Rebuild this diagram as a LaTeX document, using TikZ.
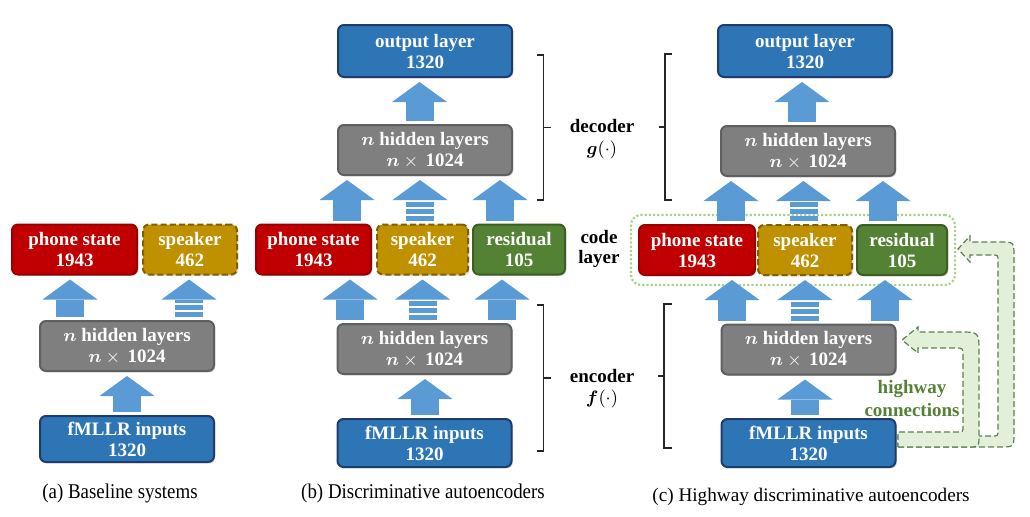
\documentclass[tikz,border=0pt]{standalone}
\usepackage{amsmath,bm}
\usepackage{fontspec}
\setmainfont{Liberation Serif}
\newfontfamily\capfont[FakeStretch=0.9]{Liberation Serif}
\usepackage{tikz}
\usetikzlibrary{arrows.meta,fit,shadows}

\definecolor{phred}{HTML}{C00000}
\definecolor{phredd}{HTML}{960000}
\definecolor{spkgold}{HTML}{BF9000}
\definecolor{spkbrown}{HTML}{7F6000}
\definecolor{resgreen}{HTML}{548235}
\definecolor{resgreend}{HTML}{3B5E25}
\definecolor{hidgray}{HTML}{7F7F7F}
\definecolor{hidgrayd}{HTML}{5F5F5F}
\definecolor{outblue}{HTML}{2E75B6}
\definecolor{outblued}{HTML}{1F3C6E}
\definecolor{arrblue}{HTML}{5B9BD5}
\definecolor{codedot}{HTML}{A9D18E}
\definecolor{hwfill}{HTML}{E2F0D9}
\definecolor{hwline}{HTML}{5E7F4F}
\definecolor{hwtext}{HTML}{548235}

\begin{document}
\begin{tikzpicture}[x=0.5pt,y=-0.5pt,
    box/.style={rounded corners=3pt,align=center,text=white,line width=1pt,inner sep=0pt,
      minimum height=25pt,font=\fontsize{9.5}{10.5}\selectfont\bfseries,
      drop shadow={shadow xshift=0.7pt,shadow yshift=-0.7pt,opacity=0.3}},
    phone/.style={box,fill=phred,draw=phredd},
    spk/.style={box,fill=spkgold,draw=spkbrown,dash pattern=on 3pt off 1.6pt},
    res/.style={box,fill=resgreen,draw=resgreend},
    hid/.style={box,fill=hidgray,draw=hidgrayd,minimum width=87pt},
    inp/.style={box,fill=outblue,draw=outblued,minimum width=87pt},
    blk/.style={draw=arrblue,line width=14pt,shorten <=1.5pt,shorten >=2pt,
      -{Triangle[length=10pt,width=27.5pt,line width=0pt]}},
    bars/.style={blk,dash pattern=on 2.4pt off 1.1pt on 2.4pt off 1.1pt on 2.4pt off 20pt},
    codebox/.style={draw=codedot,line width=1.1pt,dash pattern=on 1.1pt off 1pt,
      rounded corners=5pt,inner xsep=3.5pt,inner ysep=4.5pt},
    brk/.style={line width=0.8pt,black!85},
    lbl/.style={font=\fontsize{9.5}{10.5}\selectfont\bfseries},
    captxt/.style={font=\capfont\fontsize{10.5}{12}\selectfont},
    hw/.style={fill=hwfill,draw=hwline,line width=0.6pt,dash pattern=on 3pt off 1.5pt}]
  \useasboundingbox (0,0) rectangle (1030,516);

  % (a) baseline
  \node[phone,minimum width=62.5pt] (pha) at (74.5,249.5) {phone state\\1943};
  \node[spk,minimum width=47pt] (spka) at (190,249.5) {speaker\\462};
  \node[hid] (hida) at (127,346) {$\bm{n}$ hidden layers\\$\bm{n}\times{}$\,1024};
  \node[inp,minimum height=23pt] (ina) at (127,439) {fMLLR inputs\\1320};

  % (b) discriminative autoencoder
  \node[inp,minimum height=26pt] (outb) at (425,51) {output layer\\1320};
  \node[hid] (hidtb) at (425,150) {$\bm{n}$ hidden layers\\$\bm{n}\times{}$\,1024};
  \node[phone,minimum width=57.5pt] (phb) at (313.5,249.5) {phone state\\1943};
  \node[spk,minimum width=45.5pt] (spkb) at (422.5,249.5) {speaker\\462};
  \node[res,minimum width=46pt] (resb) at (519,249.5) {residual\\105};
  \node[hid] (hidbb) at (424.5,349) {$\bm{n}$ hidden layers\\$\bm{n}\times{}$\,1024};
  \node[inp,minimum height=24pt] (inb) at (424.5,443) {fMLLR inputs\\1320};

  % (c) highway
  \node[inp,minimum height=26pt] (outc) at (805,51) {output layer\\1320};
  \node[hid] (hidtc) at (808,151) {$\bm{n}$ hidden layers\\$\bm{n}\times{}$\,1024};
  \node[phone,minimum width=58pt] (phc) at (697,250) {phone state\\1943};
  \node[spk,minimum width=47pt] (spkc) at (805,250) {speaker\\462};
  \node[res,minimum width=45pt] (resc) at (902,250) {residual\\105};
  \node[hid] (hidbc) at (808.5,349.5) {$\bm{n}$ hidden layers\\$\bm{n}\times{}$\,1024};
  \node[inp,minimum height=24pt] (inc) at (808.5,443) {fMLLR inputs\\1320};
  \node[codebox,fit=(phc)(spkc)(resc)] (codec) {};

  % highway connections
  \draw[hw] (898,447) -- (1000,447) .. controls (1014,447) .. (1014,433) -- (1014,256)
    .. controls (1014,242) .. (1000,242) -- (970,242) -- (970,236) -- (958,249) -- (970,262)
    -- (970,255) -- (992,255) .. controls (998,255) .. (998,261) -- (998,430)
    .. controls (998,436) .. (992,436) -- (898,436) -- cycle;
  \draw[hw] (898,447) -- (967,447) .. controls (979,447) .. (979,435) -- (979,352)
    .. controls (979,332) .. (959,332) -- (918,332) -- (918,327) -- (902,340) -- (918,353)
    -- (918,348) -- (955,348) .. controls (963,348) .. (963,356) -- (963,426)
    .. controls (963,432) .. (957,432) -- (898,432) -- cycle;
  \node[lbl,text=hwtext,align=center,font=\fontsize{9.5}{11.5}\selectfont\bfseries] (hwlbl)
    at (912,398) {highway\\connections};

  % block arrows
  \foreach \n/\x in {a1/70,a2/189,a3/127,
      b0/419.5,b1/347,b2/420,b3/500,b4/350,b5/422.5,b6/502,b7/425,
      c0/802,c1/731,c2/803.5,c3/883,c4/732,c5/805,c6/885,c7/805}
    \coordinate (col\n) at (\x,0);
  \foreach \s/\t/\c in {hida/pha/a1,ina/hida/a3,hidtb/outb/b0,phb/hidtb/b1,resb/hidtb/b3,
      hidbb/phb/b4,hidbb/resb/b6,inb/hidbb/b7,hidtc/outc/c0,phc/hidtc/c1,resc/hidtc/c3,
      hidbc/phc/c4,hidbc/resc/c6,inc/hidbc/c7}
    \draw[blk] (\s.north -| col\c) -- (\t.south -| col\c);
  \foreach \s/\t/\c in {hida/spka/a2,spkb/hidtb/b2,hidbb/spkb/b5,spkc/hidtc/c2,hidbc/spkc/c5}
    \draw[bars] (\s.north -| col\c) -- (\t.south -| col\c);

  % braces
  \draw[brk] (537,55) -- (543.5,55) -- (543.5,200) -- (537,200);
  \draw[brk] (543.5,127.5) -- (551,127.5);
  \draw[brk] (537,305) -- (543.5,305) -- (543.5,451) -- (537,451);
  \draw[brk] (543.5,378) -- (551,378);
  \draw[brk] (672,54) -- (665,54) -- (665,200) -- (672,200);
  \draw[brk] (665,127) -- (659,127);
  \draw[brk] (672,304) -- (664,304) -- (664,448) -- (672,448);
  \draw[brk] (664,376) -- (658,376);

  \node[lbl] (dec) at (602,126) {decoder};
  \node[lbl] (decg) at (602,150) {$\bm{g}(\cdot)$};
  \node[lbl] (code) at (599,237) {code};
  \node[lbl] (layer) at (599,259) {layer};
  \node[lbl] (enc) at (602,376) {encoder};
  \node[lbl] (encf) at (602,399) {$\bm{f}(\cdot)$};

  % captions
  \node[captxt] (capa) at (120,493) {(a) Baseline systems};
  \node[captxt] (capb) at (423,493) {(b) Discriminative autoencoders};
  \node[font=\fontsize{9.6}{11.5}\selectfont] (capc) at (811,497) {(c) Highway discriminative autoencoders};
\end{tikzpicture}
\end{document}
